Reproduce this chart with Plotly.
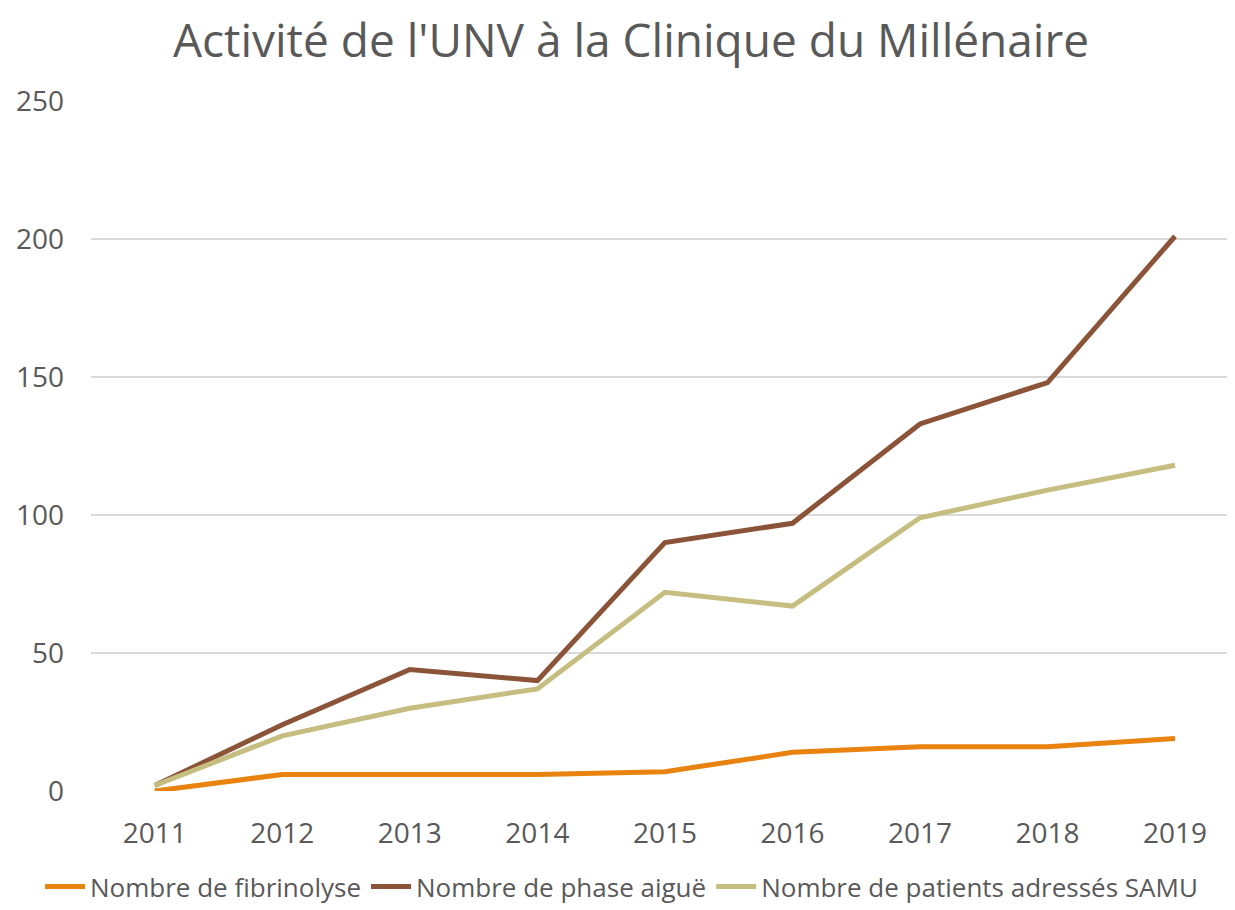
import plotly.graph_objects as go

years = ["2011", "2012", "2013", "2014", "2015", "2016", "2017", "2018", "2019"]
fibrinolyse = [0, 6, 6, 6, 7, 14, 16, 16, 19]
phase_aigue = [2, 24, 44, 40, 90, 97, 133, 148, 201]
samu = [2, 20, 30, 37, 72, 67, 99, 109, 118]

names = ["Nombre de fibrinolyse", "Nombre de phase aiguë", "Nombre de patients adressés SAMU"]
colors = ["#E8830F", "#8B5337", "#C5BE80"]
series = [fibrinolyse, phase_aigue, samu]

FONT = "Open Sans"
TXT = "#595959"
# the page body has an 8px default margin: the figure is sized to fill the rest of the window
W, H = 1227, 902

fig = go.Figure()
for name, col, vals in zip(names, colors, series):
    fig.add_trace(go.Scatter(x=years, y=vals, mode="lines", name=name,
                             line=dict(color=col, width=5)))

fig.update_layout(
    width=W, height=H,
    margin=dict(l=0, r=0, t=0, b=0, autoexpand=False),
    paper_bgcolor="white", plot_bgcolor="white",
    title=dict(text="Activité de l'UNV à la Clinique du Millénaire",
               x=623 / W, xanchor="center", y=1 - 33 / H, yanchor="middle",
               font=dict(family=FONT, size=46, color=TXT)),
    font=dict(family=FONT, color=TXT),
    xaxis=dict(type="category", range=[-0.5, 8.47], domain=[83 / W, 1],
               showgrid=False, showline=False, automargin=False,
               zeroline=False, ticks="", ticklabelstandoff=23,
               tickfont=dict(size=28, color=TXT)),
    yaxis=dict(range=[0, 250], dtick=50, domain=[119 / H, 1 - 93 / H],
               showgrid=True, gridcolor="#D9D9D9", automargin=False,
               gridwidth=1.5, zeroline=False, showline=False, ticks="",
               ticklabelstandoff=26,
               tickfont=dict(size=28, color=TXT)),
    legend=dict(orientation="h", x=0.5, xanchor="center", y=0, yanchor="bottom",
                font=dict(size=26, color=TXT), itemwidth=40, tracegroupgap=0),
    showlegend=True,
)

fig.write_html("out.html")
